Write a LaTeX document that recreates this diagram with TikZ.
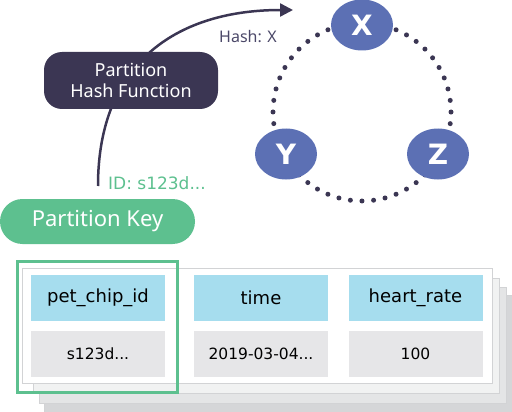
\documentclass[tikz,border=0pt]{standalone}
\usepackage{fontspec}
\setmainfont{Noto Sans}
\newfontfamily\tabfont{DejaVu Sans}
\usetikzlibrary{arrows.meta,shapes.geometric}
\definecolor{ink}{HTML}{3B3653}
\definecolor{hashtxt}{HTML}{4B4868}
\definecolor{nodeblue}{HTML}{5C70B4}
\definecolor{keygreen}{HTML}{5DC08F}
\definecolor{headcyan}{HTML}{A6DDEE}
\definecolor{cellgray}{HTML}{E6E6E8}
\definecolor{sheetline}{HTML}{D2D3D5}
\definecolor{sheettwo}{HTML}{F1F2F2}
\definecolor{sheetthree}{HTML}{E4E5E6}
\definecolor{sheetfour}{HTML}{D5D6D8}

\begin{document}
\begin{tikzpicture}[
  x=1pt, y=-1pt,
  hashbox/.style={fill=ink, text=white, rounded corners=18pt, minimum width=174pt, minimum height=57pt, inner sep=0pt, align=center, font=\fontsize{18}{21}\selectfont},
  keypill/.style={fill=keygreen, text=white, rounded corners=22.5pt, minimum width=195pt, minimum height=45pt, inner sep=0pt, font=\fontsize{22}{26}\selectfont},
  ring/.style={ellipse, fill=nodeblue, text=white, minimum width=62pt, minimum height=51pt, inner sep=0pt, font=\tabfont\bfseries\fontsize{28}{32}\selectfont},
  head/.style={fill=headcyan, minimum width=134pt, minimum height=46pt, inner sep=0pt, font=\tabfont\fontsize{18}{22}\selectfont},
  cell/.style={fill=cellgray, minimum width=134pt, minimum height=46pt, inner sep=0pt, font=\tabfont\fontsize{15.5}{19}\selectfont},
  sheet/.style={draw=sheetline, line width=1pt},
  arr/.style={line width=2.5pt, color=ink, -{Triangle[length=13pt,width=13pt]}},
]
\useasboundingbox (0,0) rectangle (512,412);

\draw[ink, line width=5pt, line cap=round, dash pattern=on 0pt off 11.65pt] (362,112) circle[radius=89pt];

\node[ring] (nx) at (362,25) {X};
\node[ring] (ny) at (286,154) {Y};
\node[ring] (nz) at (438,154) {Z};

\coordinate (src) at (98,186);
\coordinate (dst) at (293,10);
\draw[arr] (src) .. controls (98,60) and (180,10) .. (dst);

\node[hashbox] (hashfn) at (131,80.5) {Partition\\Hash Function};
\node[text=hashtxt, font=\fontsize{16}{18}\selectfont] (hashlbl) at (248,37) {Hash: X};
\node[text=keygreen, font=\tabfont\fontsize{17}{20}\selectfont] (idlbl) at (157,183) {ID: s123d...};
\node[keypill] (key) at (97.5,221.5) {Partition Key};

\filldraw[sheet, fill=sheetfour] (44,295) rectangle (512,412);
\filldraw[sheet, fill=sheetthree] (39,287) rectangle (506,403);
\filldraw[sheet, fill=sheettwo] (33,278) rectangle (499,393);
\filldraw[sheet, fill=white] (22,268) rectangle (492,383);

\node[head] (hpet) at (98,298) {pet\_chip\_id};
\node[head] (htime) at (261,298) {time};
\node[head] (hrate) at (415.5,298) {heart\_rate};
\node[cell] (vpet) at (98,354) {s123d...};
\node[cell] (vtime) at (261,354) {2019-03-04...};
\node[cell] (vrate) at (415.5,354) {100};

\draw[keygreen, line width=3pt] (17.5,261.5) rectangle (177,392);

\end{tikzpicture}
\end{document}
